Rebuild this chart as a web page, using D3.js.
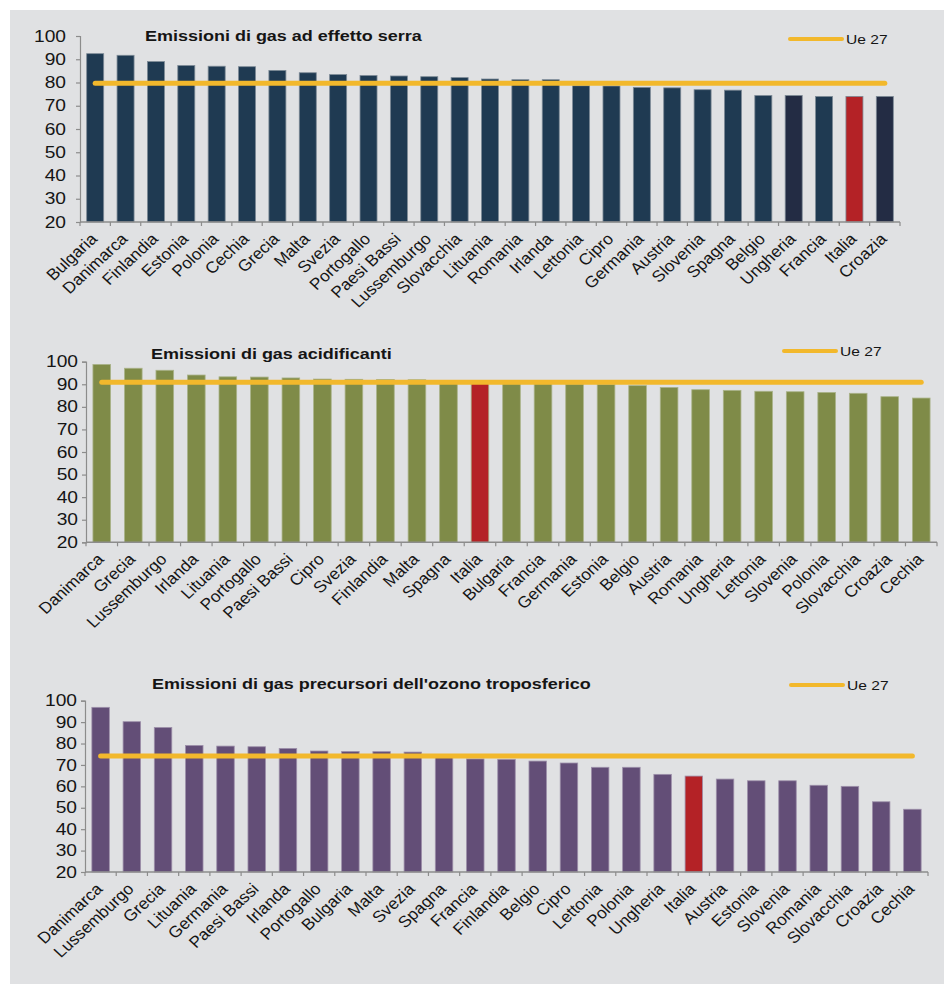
<!DOCTYPE html>
<html><head><meta charset="utf-8">
<script src="https://cdn.jsdelivr.net/npm/d3@7"></script>
<style>
html,body{margin:0;padding:0;background:#fff;}
svg{display:block;font-family:"Liberation Sans",Arial,sans-serif;}
</style></head>
<body>
<svg id="chart" width="944" height="984"></svg>
<script>
// ---------- DATA ----------
const yTicks = [20, 30, 40, 50, 60, 70, 80, 90, 100];
const legendLabel = "Ue 27";

const title1 = "Emissioni di gas ad effetto serra";
const cats1 = ["Bulgaria","Danimarca","Finlandia","Estonia","Polonia","Cechia","Grecia","Malta","Svezia","Portogallo","Paesi Bassi","Lussemburgo","Slovacchia","Lituania","Romania","Irlanda","Lettonia","Cipro","Germania","Austria","Slovenia","Spagna","Belgio","Ungheria","Francia","Italia","Croazia"];
const vals1 = [92.4,91.7,89.0,87.3,87.0,86.8,85.2,84.2,83.4,83.0,82.8,82.5,82.1,81.5,81.2,81.2,78.6,78.5,77.9,77.7,76.9,76.7,74.4,74.4,74.0,74.0,74.0];
const ue1 = 79.7;

const title2 = "Emissioni di gas acidificanti";
const cats2 = ["Danimarca","Grecia","Lussemburgo","Irlanda","Lituania","Portogallo","Paesi Bassi","Cipro","Svezia","Finlandia","Malta","Spagna","Italia","Bulgaria","Francia","Germania","Estonia","Belgio","Austria","Romania","Ungheria","Lettonia","Slovenia","Polonia","Slovacchia","Croazia","Cechia"];
const vals2 = [98.8,97.1,96.2,94.1,93.3,93.2,92.8,92.3,92.2,92.1,92.0,91.3,90.3,90.2,90.2,90.1,90.0,89.4,88.6,87.6,87.3,86.9,86.7,86.4,86.0,84.5,83.9];
const ue2 = 90.9;

const title3 = "Emissioni di gas precursori dell'ozono troposferico";
const cats3 = ["Danimarca","Lussemburgo","Grecia","Lituania","Germania","Paesi Bassi","Irlanda","Portogallo","Bulgaria","Malta","Svezia","Spagna","Francia","Finlandia","Belgio","Cipro","Lettonia","Polonia","Ungheria","Italia","Austria","Estonia","Slovenia","Romania","Slovacchia","Croazia","Cechia"];
const vals3 = [96.9,90.2,87.5,79.1,78.8,78.5,77.7,76.5,76.3,76.2,76.0,74.0,72.8,72.6,71.8,70.9,68.9,68.9,65.6,64.8,63.4,62.6,62.6,60.5,60.0,52.8,49.3];
const ue3 = 74.2;

// ---------- STYLE ----------
const bg = "#e0e1e3";
const red = "#b42226";
const gold = "#f2b82c";
const ink = "#151515";
const SX = 1.2;   // horizontal stretch of text in the reference
const SXL = 1.08; // stretch of rotated category labels

const svg = d3.select("#chart");
svg.append("rect").attr("x",10).attr("y",10).attr("width",934).attr("height",974).attr("fill",bg);

function panel(cfg){
  const g = svg.append("g");
  const x = d3.scaleBand().domain(cfg.cats).range([cfg.x0, cfg.x1]).paddingInner(0.44).paddingOuter(0.22);
  const y = d3.scaleLinear().domain([20,100]).range([cfg.yb, cfg.yt]);

  // bars
  g.selectAll("rect.bar").data(cfg.cats).join("rect")
    .attr("class","bar")
    .attr("x", d => x(d))
    .attr("width", x.bandwidth())
    .attr("y", (d,i) => y(cfg.vals[i]))
    .attr("height", (d,i) => y(20) - y(cfg.vals[i]))
    .attr("fill", d => cfg.colorOf(d))
    .attr("stroke", cfg.edge).attr("stroke-width", 0.8);

  // y axis
  const ya = d3.axisLeft(y).tickValues(yTicks).tickSize(4).tickPadding(0).tickFormat(d3.format("d"));
  const yg = g.append("g").attr("transform",`translate(${cfg.x0},0)`).call(ya);
  yg.select(".domain").attr("stroke","#8c8c8c").attr("stroke-width",1.2);
  yg.selectAll(".tick line").attr("stroke","#8c8c8c").attr("stroke-width",1.2);
  yg.selectAll(".tick text")
    .attr("x", null)
    .attr("transform", `translate(${-cfg.ygap},0) scale(${SX},1)`)
    .attr("fill",ink).style("font-size","16px")
    .style("font-family","'Liberation Sans',Arial,sans-serif");

  // x axis baseline and ticks at band boundaries
  const bounds = cfg.cats.map(c => x(c) - x.step()*0.22).concat([cfg.x1]);
  g.append("line").attr("x1",cfg.x0).attr("x2",cfg.x1).attr("y1",y(20)).attr("y2",y(20))
    .attr("stroke","#8c8c8c").attr("stroke-width",1.5);
  g.selectAll("line.xt").data(bounds).join("line").attr("class","xt")
    .attr("x1",d=>d).attr("x2",d=>d).attr("y1",y(20)).attr("y2",y(20)+4)
    .attr("stroke","#8c8c8c").attr("stroke-width",1.2);

  // category labels
  g.selectAll("text.cat").data(cfg.cats).join("text").attr("class","cat")
    .attr("transform", d => `translate(${x(d)+x.bandwidth()/2+3},${y(20)+18}) scale(${SXL},1) rotate(-45)`)
    .attr("text-anchor","end")
    .attr("fill",ink)
    .style("font-size","16px")
    .text(d => d);

  // Ue 27 line
  const xc0 = x(cfg.cats[0]) + x.bandwidth()/2;
  const xc1 = x(cfg.cats[cfg.cats.length-1]) + x.bandwidth()/2;
  g.append("line").attr("x1",xc0).attr("x2",xc1).attr("y1",y(cfg.ue)).attr("y2",y(cfg.ue))
    .attr("stroke",gold).attr("stroke-width",5).attr("stroke-linecap","round");

  // title
  g.append("text").attr("transform",`translate(${cfg.tx},${cfg.ty}) scale(${SX},1)`).attr("fill",ink)
    .style("font-size","15px").style("font-weight","bold").text(cfg.title);

  // legend
  g.append("line").attr("x1",cfg.lx).attr("x2",cfg.lx+52).attr("y1",cfg.ly).attr("y2",cfg.ly)
    .attr("stroke",gold).attr("stroke-width",4).attr("stroke-linecap","round");
  g.append("text").attr("transform",`translate(${cfg.lx+56},${cfg.ly+5}) scale(${SX},1)`).attr("fill",ink)
    .style("font-size","13px").text(legendLabel);
}

panel({cats:cats1, vals:vals1, ue:ue1, title:title1, ygap:14,
  x0:80, x1:900, yt:36, yb:222, tx:145, ty:41, lx:790, ly:39, edge:"#7d8a96",
  colorOf: c => c==="Italia" ? red : (c==="Ungheria"||c==="Croazia") ? "#232c44" : "#1f3a52"});
panel({cats:cats2, vals:vals2, ue:ue2, title:title2, ygap:8,
  x0:86, x1:937, yt:361.7, yb:542.3, tx:151, ty:359, lx:784, ly:351, edge:"#aab38a",
  colorOf: c => c==="Italia" ? red : "#7f8b48"});
panel({cats:cats3, vals:vals3, ue:ue3, title:title3, ygap:8,
  x0:85, x1:928, yt:700.7, yb:872, tx:152, ty:689, lx:791, ly:685, edge:"#9d90aa",
  colorOf: c => c==="Italia" ? red : "#634e77"});
</script>
</body></html>
